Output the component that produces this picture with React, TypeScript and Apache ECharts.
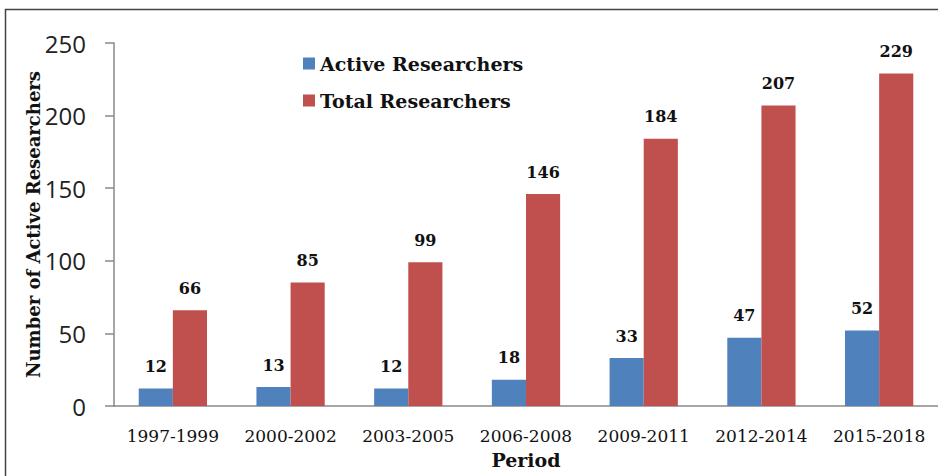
import React, { useEffect, useRef } from "react";
import * as echarts from "echarts";

const categories = ["1997-1999", "2000-2002", "2003-2005", "2006-2008", "2009-2011", "2012-2014", "2015-2018"];
const activeResearchers = [12, 13, 12, 18, 33, 47, 52];
const totalResearchers = [66, 85, 99, 146, 184, 207, 229];
const yTicks = { min: 0, max: 250, interval: 50 };

const SERIF = "'DejaVu Serif', 'Liberation Serif', serif";

export default function App() {
  const ref = useRef<HTMLDivElement>(null);
  useEffect(() => {
    if (!ref.current) return;
    const chart = echarts.init(ref.current, undefined, { renderer: "svg" });
    const labelStyle = {
      show: true,
      position: "top" as const,
      distance: 14,
      fontFamily: SERIF,
      fontWeight: "bold" as const,
      fontSize: 16,
      color: "#111",
    };
    chart.setOption({
      animation: false,
      backgroundColor: "#fff",
      graphic: [
        {
          type: "rect",
          shape: { x: 5.5, y: 9.5, width: 960, height: 500 },
          style: { fill: "none", stroke: "#444", lineWidth: 1.5 },
          silent: true,
        },
      ],
      legend: {
        orient: "vertical",
        left: 298,
        top: 49,
        itemGap: 18,
        itemWidth: 12,
        itemHeight: 12,
        icon: "rect",
        textStyle: { fontFamily: SERIF, fontWeight: "bold", fontSize: 19, color: "#111" },
        data: ["Active Researchers", "Total Researchers"],
      },
      grid: { left: 114, top: 43, right: 0, bottom: 70, containLabel: false },
      xAxis: {
        type: "category",
        data: categories,
        name: "Period",
        nameLocation: "middle",
        nameGap: 44,
        nameMoveOverlap: false,
        nameTextStyle: { fontFamily: SERIF, fontWeight: "bold", fontSize: 19, color: "#111" },
        axisLine: { show: true, lineStyle: { color: "#888", width: 1.5 } },
        axisTick: { show: false },
        axisLabel: { margin: 21, fontFamily: SERIF, fontSize: 17, color: "#111", interval: 0 },
      },
      yAxis: {
        type: "value",
        min: yTicks.min,
        max: yTicks.max,
        interval: yTicks.interval,
        name: "Number of Active Researchers",
        nameLocation: "middle",
        nameGap: 72,
        nameMoveOverlap: false,
        nameTextStyle: { fontFamily: SERIF, fontWeight: "bold", fontSize: 18, color: "#111" },
        axisLine: { show: true, lineStyle: { color: "#888", width: 1.5 } },
        axisTick: { show: true, inside: false, length: 9, lineStyle: { color: "#888", width: 1.5 } },
        splitLine: { show: false },
        axisLabel: { margin: 28, fontFamily: "'Open Sans', sans-serif", fontSize: 24, color: "#222" },
      },
      series: [
        {
          name: "Active Researchers",
          type: "bar",
          data: activeResearchers,
          barGap: "0%",
          barCategoryGap: "42%",
          itemStyle: { color: "#4F81BD" },
          label: labelStyle,
        },
        {
          name: "Total Researchers",
          type: "bar",
          data: totalResearchers,
          barGap: "0%",
          barCategoryGap: "42%",
          itemStyle: { color: "#C0504D" },
          label: labelStyle,
        },
      ],
    });
    return () => chart.dispose();
  }, []);
  return (
    <div
      ref={ref}
      style={{ position: "absolute", left: 0, top: 0, width: 938, height: 476 }}
    />
  );
}
